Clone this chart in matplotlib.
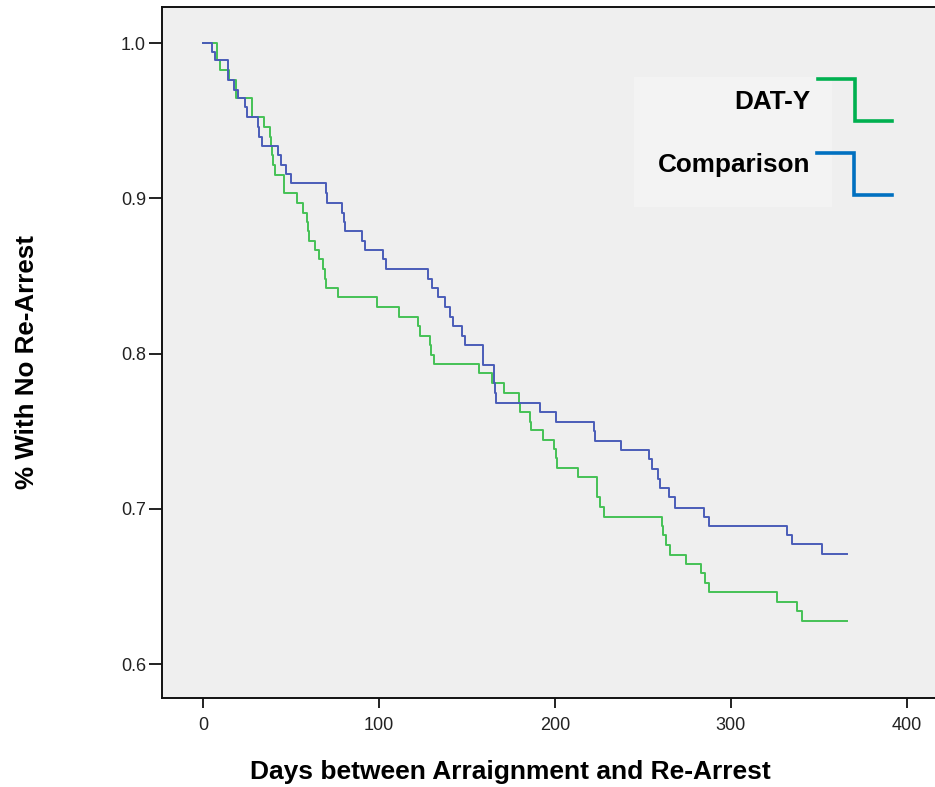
import matplotlib
matplotlib.use("Agg")
import matplotlib.pyplot as plt
from matplotlib.patches import Rectangle
from matplotlib.lines import Line2D

# ---- data (Kaplan-Meier step curves) ----
daty_days = [0, 8.1, 9.7, 15.0, 18.8, 19.0, 27.7, 27.9, 34.7, 38.1, 38.7, 39.3, 39.8,
             41.0, 46.1, 46.3, 53.7, 57.1, 59.0, 59.9, 60.2, 63.7, 66.2, 68.5, 69.4,
             69.7, 77.0, 99.2, 111.2, 122.1, 123.2, 129.2, 129.5, 131.1, 157.1, 164.5,
             171.3, 179.5, 180.1, 186.1, 186.7, 193.3, 199.8, 200.6, 201.5, 213.0,
             223.8, 224.2, 225.9, 227.8, 261.1, 261.8, 263.5, 265.4, 274.9, 282.9,
             285.7, 287.6, 326.1, 337.9, 340.7, 366.0]
daty_surv = [1.0, 0.9890, 0.9826, 0.9762, 0.9704, 0.9644, 0.9581, 0.9521, 0.9461,
             0.9396, 0.9336, 0.9278, 0.9214, 0.9149, 0.9091, 0.9032, 0.8971, 0.8907,
             0.8849, 0.8789, 0.8726, 0.8666, 0.8606, 0.8544, 0.8483, 0.8419, 0.8361,
             0.8297, 0.8236, 0.8176, 0.8112, 0.8054, 0.7990, 0.7932, 0.7872, 0.7807,
             0.7747, 0.7682, 0.7624, 0.7560, 0.7506, 0.7442, 0.7382, 0.7324, 0.7260,
             0.7202, 0.7139, 0.7075, 0.7012, 0.6948, 0.6888, 0.6830, 0.6765, 0.6701,
             0.6643, 0.6583, 0.6524, 0.6461, 0.6400, 0.6342, 0.6278, 0.6278]

comp_days = [0, 5.3, 6.8, 14.4, 14.5, 17.6, 20.1, 23.9, 24.9, 31.5, 31.6, 33.4, 42.9,
             44.2, 47.2, 49.9, 69.8, 70.4, 78.9, 80.0, 80.8, 90.2, 91.9, 102.3, 104.2,
             128.2, 130.2, 133.9, 137.7, 140.6, 142.4, 147.2, 149.1, 159.1, 159.3,
             165.2, 165.6, 166.1, 166.7, 191.7, 200.9, 222.5, 222.8, 237.7, 253.4,
             255.3, 258.5, 259.6, 264.7, 268.6, 285.1, 287.6, 332.1, 334.9, 352.1, 366.0]
comp_surv = [1.0, 0.9944, 0.9890, 0.9826, 0.9762, 0.9697, 0.9644, 0.9586, 0.9521,
             0.9459, 0.9396, 0.9336, 0.9278, 0.9214, 0.9156, 0.9096, 0.9032, 0.8971,
             0.8907, 0.8849, 0.8789, 0.8726, 0.8666, 0.8606, 0.8542, 0.8477, 0.8419,
             0.8361, 0.8297, 0.8236, 0.8176, 0.8112, 0.8054, 0.7990, 0.7925, 0.7867,
             0.7807, 0.7745, 0.7682, 0.7624, 0.7560, 0.7500, 0.7438, 0.7378, 0.7318,
             0.7253, 0.7189, 0.7131, 0.7073, 0.7008, 0.6948, 0.6888, 0.6830, 0.6772,
             0.6707, 0.6707]

group_names = ["DAT-Y", "Comparison"]
x_ticks = [0, 100, 200, 300, 400]
y_ticks = [0.6, 0.7, 0.8, 0.9, 1.0]
x_label = "Days between Arraignment and Re-Arrest"
y_label = "% With No Re-Arrest"

# ---- figure ----
W, H = 935, 787
fig = plt.figure(figsize=(W / 100, H / 100), dpi=100)
fig.patch.set_facecolor("white")

def fx(px):
    return px / W

def fy(py):
    return 1 - py / H

ax = fig.add_axes([fx(162), fy(698), fx(935) - fx(162) + 0.01, fy(7) - fy(698)])
ax.set_facecolor("#efefef")

ax.step(daty_days, daty_surv, where="post", color="#45c155", lw=1.4, zorder=3)
ax.step(comp_days, comp_surv, where="post", color="#4a5cb8", lw=1.4, zorder=3)

ax.set_xlim(-23.3, 421.5)
ax.set_ylim(0.5781, 1.0232)
ax.set_xticks(x_ticks)
ax.set_yticks(y_ticks)
ax.set_xticklabels([str(t) for t in x_ticks])
ax.set_yticklabels([f"{t:.1f}" for t in y_ticks])

tick_family = ["Liberation Sans", "DejaVu Sans"]
for lab in ax.get_xticklabels() + ax.get_yticklabels():
    lab.set_fontfamily(tick_family)
    lab.set_fontsize(13)
    lab.set_color("#222222")

ax.tick_params(axis="x", direction="out", length=7.5, width=1.4, color="#222222", pad=6)
ax.tick_params(axis="y", direction="out", length=9.5, width=1.4, color="#222222", pad=2)

for s in ["left", "bottom", "top"]:
    ax.spines[s].set_linewidth(1.4)
    ax.spines[s].set_color("#111111")
ax.spines["right"].set_visible(False)

lab_font = ["Liberation Sans", "DejaVu Sans"]
fig.text(fx(510), fy(772), x_label, ha="center", va="center", fontsize=19,
         fontweight="bold", family=lab_font)
fig.text(fx(27), fy(362), y_label, ha="center", va="center", rotation=90,
         fontsize=18.7, fontweight="bold", family=lab_font)

# ---- legend overlay ----
fig.patches.append(Rectangle((fx(634), fy(207)), fx(832) - fx(634), fy(77) - fy(207),
                             transform=fig.transFigure, facecolor="#f3f3f3",
                             edgecolor="none", zorder=5))
fig.text(fx(810), fy(102), group_names[0], ha="right", va="center", fontsize=18.8,
         fontweight="bold", family=lab_font, zorder=6)
fig.text(fx(810), fy(165), group_names[1], ha="right", va="center", fontsize=18.8,
         fontweight="bold", family=lab_font, zorder=6)
fig.lines.append(Line2D([fx(818), fx(855), fx(855), fx(892)],
                        [fy(79), fy(79), fy(121), fy(121)], transform=fig.transFigure,
                        color="#00b050", lw=2.6, zorder=6, solid_joinstyle="miter"))
fig.lines.append(Line2D([fx(817), fx(854), fx(854), fx(892)],
                        [fy(153), fy(153), fy(195), fy(195)], transform=fig.transFigure,
                        color="#0070c0", lw=2.6, zorder=6, solid_joinstyle="miter"))

fig.savefig("out.png", dpi=100)
